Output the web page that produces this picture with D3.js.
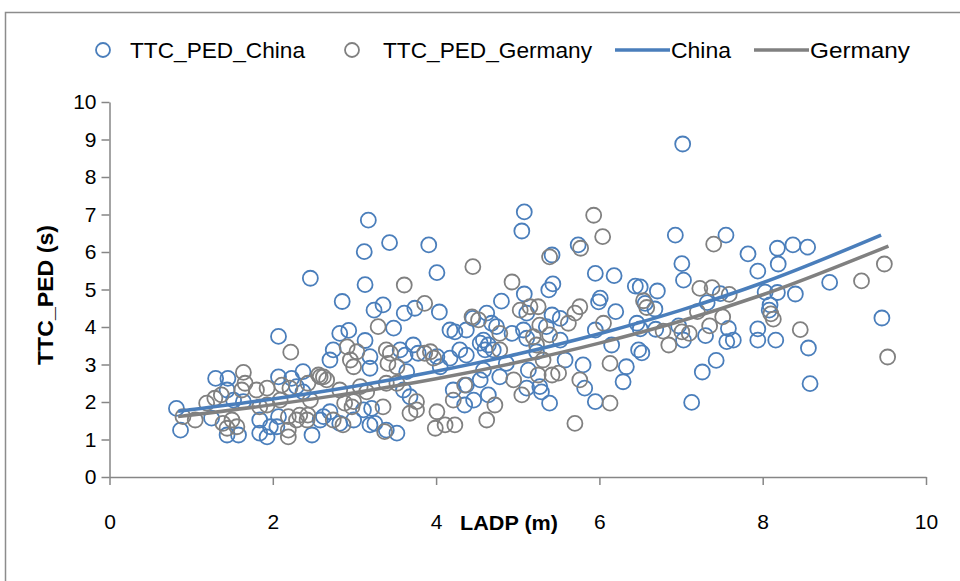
<!DOCTYPE html>
<html>
<head>
<meta charset="utf-8">
<script src="https://cdn.jsdelivr.net/npm/d3@7"></script>
<style>
  body { margin: 0; background: #fff; }
  svg text { font-family: "Liberation Sans", Arial, sans-serif; fill: #000; }
  .axis path, .axis line { stroke: #868686; stroke-width: 1.5; }
</style>
</head>
<body>
<svg id="chart" width="960" height="581"></svg>
<script>
// TTC_PED (s) against LADP (m)
const chinaX = [7.02,5.08,5.05,3.17,3.43,3.12,3.91,4.01,2.46,3.13,2.85,3.24,3.35,3.61,3.74,4.04,3.48,2.82,2.93,3.13,
  5.74,5.42,6.93,7.01,7.03,5.95,6.18,6.44,6.71,5.43,5.38,7.55,7.82,8.18,8.37,8.55,8.19,7.94,8.82,9.46,
  8.56,8.58,8.40,8.03,8.18,8.09,8.08,7.94,7.94,8.16,7.58,7.56,7.64,7.48,7.32,7.30,7.03,7.43,7.26,7.13,
  6.97,6.69,6.50,6.52,6.68,6.50,4.80,5.08,6.01,5.99,6.20,6.56,5.11,5.42,5.52,5.35,5.95,6.46,4.62,4.68,
  4.74,4.93,4.58,4.64,4.70,5.07,5.11,5.52,6.15,6.48,6.33,6.29,5.58,5.23,5.80,5.82,5.95,5.27,5.29,5.11,
  5.13,4.78,4.64,5.39,4.86,4.37,4.17,4.23,3.72,3.78,3.56,3.62,3.19,2.74,2.70,3.19,3.64,4.01,4.05,4.17,
  4.29,4.37,4.54,4.60,4.58,4.54,4.37,4.21,3.60,3.68,4.35,4.46,2.70,2.82,2.99,3.19,3.25,3.39,3.52,3.11,
  3.21,2.07,1.30,1.45,0.82,0.87,1.44,2.07,2.23,2.37,1.52,1.64,2.29,2.37,1.25,1.58,1.84,1.93,1.97,2.05,
  2.07,1.84,2.48,2.58,2.62,1.44,4.45];
const chinaY = [8.88,7.07,6.56,6.85,6.25,6.01,6.19,5.45,5.30,5.13,4.68,4.45,4.59,4.37,4.50,4.40,3.97,3.83,3.91,3.64,
  6.19,5.92,6.45,5.69,5.25,5.43,5.37,5.09,4.96,5.15,4.99,6.45,5.95,6.10,6.19,6.13,5.68,5.49,5.19,4.24,
  3.44,2.49,4.88,4.93,4.92,4.59,4.45,3.95,3.65,3.65,3.96,3.61,3.65,4.89,4.65,3.77,3.65,3.11,2.80,1.99,
  4.03,3.94,3.95,3.31,4.48,5.07,4.69,4.88,4.77,4.67,4.41,4.63,4.37,4.32,4.23,4.01,3.92,4.10,4.37,4.10,
  4.01,3.83,3.65,3.52,3.39,3.92,3.70,3.65,3.52,3.39,2.94,2.54,3.12,3.34,2.99,2.37,2.01,2.41,2.27,2.37,
  2.85,2.67,2.19,1.97,3.03,3.92,3.92,3.87,3.52,3.30,3.39,3.25,3.21,3.39,3.12,2.90,2.81,3.21,2.94,3.17,
  3.39,3.25,3.57,3.39,2.85,2.59,2.45,2.32,2.32,2.14,1.92,2.05,1.74,1.43,1.52,1.39,1.43,1.25,1.17,1.79,
  1.83,3.75,2.63,2.63,1.83,1.25,2.32,2.67,2.63,2.81,2.05,2.01,2.41,2.27,1.57,1.12,1.17,1.07,1.34,1.34,
  1.61,1.52,1.12,1.52,1.61,1.12,4.23];

const germanyX = [5.93,6.04,5.77,5.39,7.40,7.23,7.38,9.21,9.49,9.53,8.46,7.59,7.20,7.51,7.35,7.10,8.10,8.13,6.85,6.78,
  6.54,6.58,4.93,5.76,5.70,5.62,5.03,5.15,5.25,5.27,6.05,4.78,5.19,5.23,5.39,6.13,5.31,5.76,6.13,5.50,
  5.42,5.25,5.05,4.95,4.72,5.70,4.62,4.78,7.01,3.86,3.29,2.91,4.44,4.52,3.93,3.86,3.97,3.39,3.44,3.03,
  2.95,2.99,3.41,3.52,2.58,2.66,2.82,3.07,3.15,2.88,2.97,2.99,3.35,3.76,3.76,3.68,4.01,4.21,3.99,4.11,
  4.23,2.74,2.86,3.37,3.39,3.52,3.61,4.45,4.35,2.22,1.64,1.19,1.29,1.37,1.62,1.66,1.80,1.93,2.56,2.62,
  2.11,2.21,1.84,1.93,2.09,2.43,2.46,0.90,1.05,1.39,1.44,1.50,1.56,2.19,2.19,2.29,2.33,2.42,2.43,2.19];
const germanyY = [6.98,6.41,6.10,5.87,6.21,5.03,5.05,5.23,5.68,3.20,3.93,4.87,4.41,4.27,4.03,3.83,4.35,4.21,3.52,3.89,
  4.70,4.52,5.20,4.54,4.37,4.10,4.45,4.54,4.54,4.05,4.10,3.83,3.74,3.52,3.79,3.03,3.12,2.59,1.97,2.77,
  2.72,2.72,2.19,2.59,1.92,1.43,1.52,3.39,3.87,4.63,4.01,3.47,4.27,4.19,3.34,3.30,3.17,3.39,3.30,3.34,
  3.12,2.94,3.03,2.94,2.67,2.59,2.32,2.41,2.27,1.97,1.87,2.01,1.87,2.01,1.79,1.70,1.74,2.05,1.30,1.39,
  1.39,1.52,1.39,1.21,2.50,2.50,5.12,5.61,2.45,3.33,2.79,1.97,2.10,2.19,2.32,2.50,2.32,2.37,2.72,2.67,
  2.45,2.37,1.87,1.92,2.05,2.50,2.05,1.61,1.52,1.43,1.30,1.52,1.34,1.25,1.61,1.52,1.65,1.52,1.65,1.07];

// trend lines, points
const trendX = [0.84,2,3,4,5,6,7,8,9.45];
const trendChina = [1.75,2.08,2.42,2.82,3.28,3.82,4.45,5.18,6.45];
const trendGermanyX = [0.84,2,3,4,5,6,7,8,9.54];
const trendGermany = [1.61,1.93,2.25,2.62,3.06,3.57,4.16,4.86,6.16];

const xTicks = [0,2,4,6,8,10];
const yTicks = [0,1,2,3,4,5,6,7,8,9,10];

const blue = "#4a7ebb", grey = "#808080";

const svg = d3.select("#chart");

// outer frame
svg.append("rect")
  .attr("x", 5.5).attr("y", 12.5)
  .attr("width", 1000).attr("height", 700)
  .attr("fill", "none")
  .attr("stroke", "#8c8c8c")
  .attr("stroke-width", 1.5);

const x = d3.scaleLinear().domain([0, 10]).range([109.5, 926]);
const y = d3.scaleLinear().domain([0, 10]).range([477, 102]);

svg.append("g")
  .attr("class", "axis")
  .attr("transform", "translate(0," + y(0) + ")")
  .call(d3.axisBottom(x).tickValues(xTicks).tickSize(8).tickPadding(29).tickSizeOuter(0))
  .call(g => g.selectAll("text").attr("font-size", 21).attr("fill", "#000"));

svg.append("g")
  .attr("class", "axis")
  .attr("transform", "translate(" + x(0) + ",0)")
  .call(d3.axisLeft(y).tickValues(yTicks).tickSize(8).tickPadding(5).tickSizeOuter(0))
  .call(g => g.selectAll("text").attr("font-size", 21).attr("fill", "#000"));

// axis titles
svg.append("text")
  .attr("x", 509).attr("y", 530)
  .attr("text-anchor", "middle")
  .attr("font-size", 21)
  .attr("font-weight", "bold")
  .attr("textLength", 98).attr("lengthAdjust", "spacingAndGlyphs")
  .text("LADP (m)");

svg.append("text")
  .attr("transform", "translate(53,295) rotate(-90)")
  .attr("text-anchor", "middle")
  .attr("font-size", 22)
  .attr("font-weight", "bold")
  .attr("textLength", 140).attr("lengthAdjust", "spacingAndGlyphs")
  .text("TTC_PED (s)");

function drawSeries(xs, ys, color) {
  svg.append("g")
    .selectAll("circle")
    .data(xs.map((v, i) => [v, ys[i]]))
    .join("circle")
    .attr("cx", d => x(d[0]))
    .attr("cy", d => y(d[1]))
    .attr("r", 7.5)
    .attr("fill", "none")
    .attr("stroke", color)
    .attr("stroke-width", 1.8);
}

drawSeries(chinaX, chinaY, blue);
drawSeries(germanyX, germanyY, grey);

const line = d3.line()
  .x(d => x(d[0]))
  .y(d => y(d[1]))
  .curve(d3.curveMonotoneX);

svg.append("path")
  .datum(trendX.map((v, i) => [v, trendChina[i]]))
  .attr("d", line)
  .attr("fill", "none")
  .attr("stroke", blue)
  .attr("stroke-width", 3.5);

svg.append("path")
  .datum(trendGermanyX.map((v, i) => [v, trendGermany[i]]))
  .attr("d", line)
  .attr("fill", "none")
  .attr("stroke", grey)
  .attr("stroke-width", 3.5);

// legend
const legend = svg.append("g").attr("font-size", 22);

function legendText(tx, w, label) {
  legend.append("text").attr("x", tx).attr("y", 58)
    .attr("textLength", w).attr("lengthAdjust", "spacingAndGlyphs")
    .text(label);
}

legend.append("circle").attr("cx", 103).attr("cy", 50).attr("r", 7)
  .attr("fill", "none").attr("stroke", blue).attr("stroke-width", 1.8);
legendText(130, 175, "TTC_PED_China");

legend.append("circle").attr("cx", 352).attr("cy", 50).attr("r", 7)
  .attr("fill", "none").attr("stroke", grey).attr("stroke-width", 1.8);
legendText(383, 209, "TTC_PED_Germany");

legend.append("line").attr("x1", 615).attr("x2", 670).attr("y1", 50).attr("y2", 50)
  .attr("stroke", blue).attr("stroke-width", 3.5);
legendText(671, 60, "China");

legend.append("line").attr("x1", 754).attr("x2", 809).attr("y1", 50).attr("y2", 50)
  .attr("stroke", grey).attr("stroke-width", 3.5);
legendText(810, 100, "Germany");
</script>
</body>
</html>
